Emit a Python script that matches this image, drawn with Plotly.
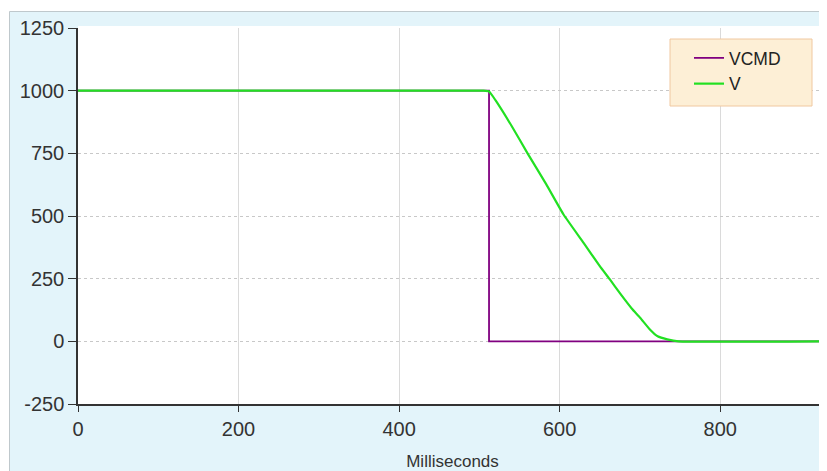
import plotly.graph_objects as go

# Data
vcmd_x = [0, 512, 512, 933]
vcmd_y = [1000, 1000, 0, 0]

v_x = [0, 505, 512, 520, 540, 560, 583, 605, 630, 650, 663, 675, 690, 700, 713, 722, 734, 748, 933]
v_y = [1000, 1000, 997, 962, 860, 750, 628, 505, 392, 300, 245, 192, 130, 95, 45, 20, 8, 0, 0]

x_ticks = [0, 200, 400, 600, 800]
y_ticks = [-250, 0, 250, 500, 750, 1000, 1250]

# page offset of the plot div (default body margin)
OX, OY = 8, 8
W, H = 827 - OX, 471 - OY
# plot area in image pixel coordinates
PL, PR, PT, PB = 78, 827, 28, 404
L, R, T, B = PL - OX, OX + W - PR, PT - OY, OY + H - PB
pw, ph = PR - PL, PB - PT

def px(xp):
    return (xp - PL) / pw

def py(yp):
    return (PB - yp) / ph

fig = go.Figure()
fig.add_trace(go.Scatter(x=vcmd_x, y=vcmd_y, mode="lines", name="VCMD",
                         line=dict(color="#800080", width=1.8)))
fig.add_trace(go.Scatter(x=v_x, y=v_y, mode="lines", name="V",
                         line=dict(color="#22E022", width=2.2, shape="spline", smoothing=0.4)))

shapes = [
    # light blue chart background
    dict(type="rect", xref="paper", yref="paper", x0=px(9.5), x1=px(840), y0=py(480), y1=py(11.5),
         fillcolor="#E3F4FA", line=dict(color="#BFC8CC", width=1), layer="below"),
    # white plot area
    dict(type="rect", xref="paper", yref="paper", x0=0, x1=1.02, y0=0, y1=py(26),
         fillcolor="white", line=dict(width=0), layer="below"),
    # legend box
    dict(type="rect", xref="paper", yref="paper", x0=px(670), x1=px(812), y0=py(106), y1=py(39),
         fillcolor="#FDEFD6", line=dict(color="#F0C8A0", width=1), layer="above"),
]

fig.update_layout(
    width=W, height=H,
    autosize=False,
    margin=dict(l=L, r=R, t=T, b=B),
    paper_bgcolor="white",
    plot_bgcolor="rgba(0,0,0,0)",
    shapes=shapes,
    showlegend=True,
    legend=dict(x=px(689), y=py(40), xanchor="left", yanchor="top",
                bgcolor="rgba(0,0,0,0)", borderwidth=0,
                font=dict(family="Liberation Sans, Arial", size=17.5, color="#222"),
                itemwidth=30, tracegroupgap=0),
    font=dict(family="Liberation Sans, Arial", color="#333"),
    xaxis=dict(range=[0, 933], tickvals=x_ticks, ticktext=[str(v) for v in x_ticks],
               showgrid=True, gridcolor="#DADADA", gridwidth=1,
               zeroline=False, showline=True, linecolor="#333", linewidth=1.5,
               ticks="outside", ticklen=6, tickcolor="#333",
               tickfont=dict(size=20, color="#333"),
               title=dict(text="Milliseconds", font=dict(size=17, color="#333"), standoff=16)),
    yaxis=dict(range=[-250, 1250], tickvals=y_ticks, ticktext=[str(v) for v in y_ticks],
               showgrid=True, gridcolor="#C8C8C8", gridwidth=1, griddash="dot",
               zeroline=False, showline=True, linecolor="#333", linewidth=1.5,
               ticks="outside", ticklen=8, tickcolor="#333",
               tickfont=dict(size=20, color="#333")),
)

fig.write_html("out.html", config={"responsive": False})
